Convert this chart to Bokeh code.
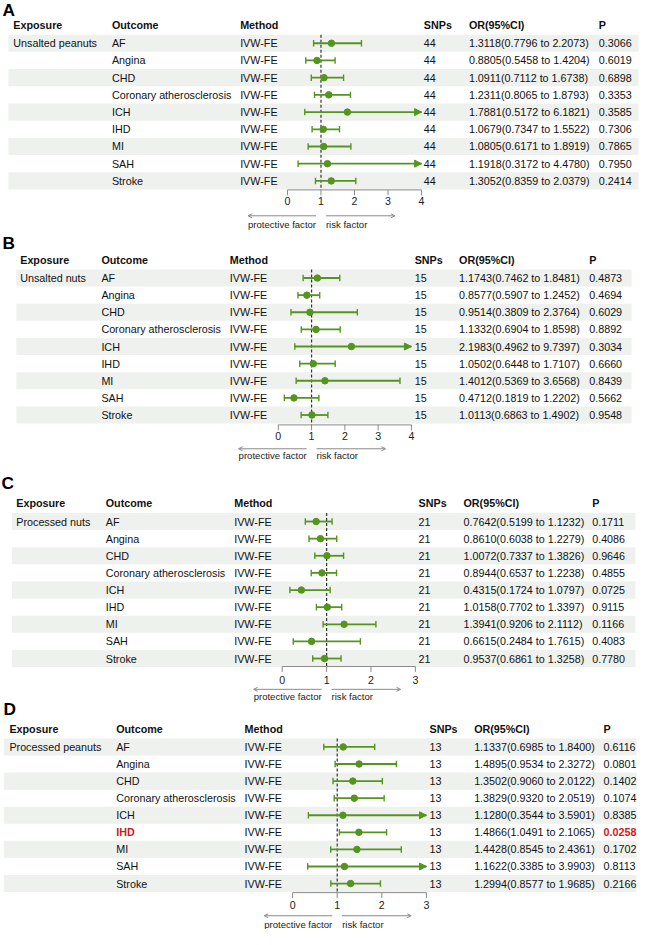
from bokeh.plotting import figure
from bokeh.models import Range1d, ColumnDataSource, Arrow, NormalHead, OpenHead
from bokeh.core.properties import value
from bokeh.embed import file_html
from bokeh.resources import INLINE

# ---------------- data ----------------
outcomes = ["AF", "Angina", "CHD", "Coronary atherosclerosis", "ICH",
            "IHD", "MI", "SAH", "Stroke"]
method_name = "IVW-FE"
headers = ["Exposure", "Outcome", "Method", "SNPs", "OR(95%CI)", "P"]
panel_letters = ["A", "B", "C", "D"]
exposures = ["Unsalted peanuts", "Unsalted nuts", "Processed nuts", "Processed peanuts"]
snps = [44, 15, 21, 13]

or_A = [1.3118, 0.8805, 1.0911, 1.2311, 1.7881, 1.0679, 1.0805, 1.1918, 1.3052]
lo_A = [0.7796, 0.5458, 0.7112, 0.8065, 0.5172, 0.7347, 0.6171, 0.3172, 0.8359]
hi_A = [2.2073, 1.4204, 1.6738, 1.8793, 6.1821, 1.5522, 1.8919, 4.4780, 2.0379]
p_A = [0.3066, 0.6019, 0.6898, 0.3353, 0.3585, 0.7306, 0.7865, 0.7950, 0.2414]

or_B = [1.1743, 0.8577, 0.9514, 1.1332, 2.1983, 1.0502, 1.4012, 0.4712, 1.0113]
lo_B = [0.7462, 0.5907, 0.3809, 0.6904, 0.4962, 0.6448, 0.5369, 0.1819, 0.6863]
hi_B = [1.8481, 1.2452, 2.3764, 1.8598, 9.7397, 1.7107, 3.6568, 1.2202, 1.4902]
p_B = [0.4873, 0.4694, 0.6029, 0.8892, 0.3034, 0.6660, 0.8439, 0.5662, 0.9548]

or_C = [0.7642, 0.8610, 1.0072, 0.8944, 0.4315, 1.0158, 1.3941, 0.6615, 0.9537]
lo_C = [0.5199, 0.6038, 0.7337, 0.6537, 0.1724, 0.7702, 0.9206, 0.2484, 0.6861]
hi_C = [1.1232, 1.2279, 1.3826, 1.2238, 1.0797, 1.3397, 2.1112, 1.7615, 1.3258]
p_C = [0.1711, 0.4086, 0.9646, 0.4855, 0.0725, 0.9115, 0.1166, 0.4083, 0.7780]

or_D = [1.1337, 1.4895, 1.3502, 1.3829, 1.1280, 1.4866, 1.4428, 1.1622, 1.2994]
lo_D = [0.6985, 0.9534, 0.9060, 0.9320, 0.3544, 1.0491, 0.8545, 0.3385, 0.8577]
hi_D = [1.8400, 2.3272, 2.0122, 2.0519, 3.5901, 2.1065, 2.4361, 3.9903, 1.9685]
p_D = [0.6116, 0.0801, 0.1402, 0.1074, 0.8385, 0.0258, 0.1702, 0.8113, 0.2166]

ticks_A = [0, 1, 2, 3, 4]
ticks_B = [0, 1, 2, 3, 4]
ticks_C = [0, 1, 2, 3]
ticks_D = [0, 1, 2, 3]

panels_data = [
    (or_A, lo_A, hi_A, p_A, ticks_A),
    (or_B, lo_B, hi_B, p_B, ticks_B),
    (or_C, lo_C, hi_C, p_C, ticks_C),
    (or_D, lo_D, hi_D, p_D, ticks_D),
]

# ---------------- layout (reference pixel units) ----------------
W, H = 639, 929
REF_W, REF_H = 648, 945
SX = W / REF_W
FONT = "Liberation Sans"
GREEN = "#55951f"
BAND = "#eef1ee"
TXT = "#111111"
RED = "#d01818"
GRAY = "#8a8a8a"

layouts = [
    dict(label=(2, 9.5), header_y=25.0, row0=43.5, dy=17.5, band=(8, 647),
         cols=(13, 113, 243, 429.3, 475, 606.7), zero=291.0, unit=34.0,
         axis_y=192.7, tick_y=204.0, arrow_y=219.0, alabel_y=227.5),
    dict(label=(2, 246.7), header_y=264.0, row0=282.3, dy=17.42, band=(16, 640),
         cols=(20, 102.3, 232.5, 420, 465, 597), zero=281.7, unit=33.75,
         axis_y=431.7, tick_y=443.0, arrow_y=456.0, alabel_y=463.0),
    dict(label=(1, 490.5), header_y=511.3, row0=530.0, dy=17.42, band=(11.7, 644),
         cols=(16, 106.7, 237, 424, 469.5, 600), zero=285.7, unit=45.0,
         axis_y=677.5, tick_y=691.5, arrow_y=700.7, alabel_y=708.0),
    dict(label=(3, 721.0), header_y=740.7, row0=759.3, dy=17.37, band=(3.3, 645),
         cols=(9, 117.3, 247.5, 435, 480.3, 611.5), zero=296.2, unit=45.25,
         axis_y=907.5, tick_y=920.0, arrow_y=931.0, alabel_y=939.5),
]

p = figure(width=W, height=H, x_range=Range1d(0, REF_W), y_range=Range1d(REF_H, 0),
           output_backend="svg", toolbar_location=None, min_border=0,
           x_axis_type=None, y_axis_type=None, background_fill_color="white")
p.grid.visible = False
p.outline_line_color = None

fs_body = value(f"{10.9 * SX:.2f}px")
fs_small = value(f"{9.7 * SX:.2f}px")
fs_tick = value(f"{10.8 * SX:.2f}px")
fs_letter = value(f"{17.5 * SX:.2f}px")

extra = {}
for i, lay in enumerate(layouts):
    start = (0 - lay["zero"]) / lay["unit"]
    end = (REF_W - lay["zero"]) / lay["unit"]
    extra[f"f{i}"] = Range1d(start, end)
p.extra_x_ranges = extra

for i, (lay, (ors, los, his, ps, ticks)) in enumerate(zip(layouts, panels_data)):
    rname = f"f{i}"
    n = len(outcomes)
    ys = [lay["row0"] + k * lay["dy"] for k in range(n)]
    dy = lay["dy"]
    c_exp, c_out, c_meth, c_snp, c_or, c_p = lay["cols"]
    xmax = max(ticks)

    # zebra bands
    band_rows = [ys[k] for k in range(0, n, 2)]
    p.rect(x=(lay["band"][0] + lay["band"][1]) / 2, y=band_rows,
           width=lay["band"][1] - lay["band"][0], height=dy,
           fill_color=BAND, line_color=None)

    # panel letter
    p.text(x=[lay["label"][0]], y=[lay["label"][1]], text=[panel_letters[i]],
           text_font=value(FONT), text_font_size=fs_letter, text_font_style="bold",
           text_baseline="middle", text_color="black")

    # headers
    p.text(x=list(lay["cols"]), y=[lay["header_y"]] * 6, text=headers,
           text_font=value(FONT), text_font_size=fs_body, text_font_style="bold",
           text_baseline="middle", text_color=TXT)

    sig = [pv < 0.05 for pv in ps]
    or_txt = [f"{o:.4f}({l:.4f} to {h:.4f})" for o, l, h in zip(ors, los, his)]
    p_txt = [f"{pv:.4f}" for pv in ps]

    xs_n, ys_n, t_n = [c_exp], [ys[0]], [exposures[i]]
    xs_b, ys_b, t_b = [], [], []
    for k in range(n):
        for col_x, txt in ((c_meth, method_name), (c_snp, str(snps[i])), (c_or, or_txt[k])):
            xs_n.append(col_x); ys_n.append(ys[k]); t_n.append(txt)
        if sig[k]:
            xs_b += [c_out, c_p]; ys_b += [ys[k], ys[k]]; t_b += [outcomes[k], p_txt[k]]
        else:
            xs_n += [c_out, c_p]; ys_n += [ys[k], ys[k]]; t_n += [outcomes[k], p_txt[k]]
    p.text(x=xs_n, y=ys_n, text=t_n, text_font=value(FONT), text_font_size=fs_body,
           text_baseline="middle", text_color=TXT)
    if t_b:
        p.text(x=xs_b, y=ys_b, text=t_b, text_font=value(FONT), text_font_size=fs_body,
               text_font_style="bold", text_baseline="middle", text_color=RED)

    # reference dashed line at OR = 1
    p.segment(x0=[1], x1=[1], y0=[ys[0] - dy / 2], y1=[lay["axis_y"]],
              x_range_name=rname, line_color="#333333", line_width=1.2, line_dash="3 2")

    # CI lines
    hi_clip = [min(h, xmax) for h in his]
    p.segment(x0=los, x1=hi_clip, y0=ys, y1=ys, x_range_name=rname,
              line_color=GREEN, line_width=1.8)
    cap = 3.3
    cap_x = list(los) + [h for h in his if h <= xmax]
    cap_y = list(ys) + [y for h, y in zip(his, ys) if h <= xmax]
    p.segment(x0=cap_x, x1=cap_x, y0=[y - cap for y in cap_y], y1=[y + cap for y in cap_y],
              x_range_name=rname, line_color=GREEN, line_width=1.4)
    clip_rows = [k for k in range(n) if his[k] > xmax]
    if clip_rows:
        src = ColumnDataSource(dict(x0=[xmax - 0.2 for _ in clip_rows],
                                    x1=[xmax for _ in clip_rows],
                                    y=[ys[k] for k in clip_rows]))
        p.add_layout(Arrow(end=NormalHead(size=7, fill_color=GREEN, line_color=GREEN, line_width=1),
                           x_start="x0", x_end="x1", y_start="y", y_end="y", source=src,
                           line_alpha=0, x_range_name=rname))
    p.scatter(x=ors, y=ys, x_range_name=rname, size=6.5, marker="circle",
              fill_color=GREEN, line_color=GREEN)

    # axis
    p.segment(x0=[min(ticks)], x1=[xmax], y0=[lay["axis_y"]], y1=[lay["axis_y"]],
              x_range_name=rname, line_color=GRAY, line_width=1)
    p.segment(x0=ticks, x1=ticks, y0=[lay["axis_y"]] * len(ticks),
              y1=[lay["axis_y"] + 5.5] * len(ticks), x_range_name=rname,
              line_color=GRAY, line_width=1)
    p.text(x=ticks, y=[lay["tick_y"]] * len(ticks), text=[str(t) for t in ticks],
           x_range_name=rname, text_font=value(FONT), text_font_size=fs_tick,
           text_align="center", text_baseline="middle", text_color="#222222")

    # direction arrows and labels
    one_px = lay["zero"] + lay["unit"]
    l_start, l_end = one_px - 5, one_px - 5 - 69
    r_start, r_end = one_px + 5, one_px + 5 + 70
    for xs0, xs1 in ((l_start, l_end), (r_start, r_end)):
        p.add_layout(Arrow(end=OpenHead(size=4, line_color=GRAY, line_width=1),
                           x_start=xs0, x_end=xs1, y_start=lay["arrow_y"], y_end=lay["arrow_y"],
                           line_color=GRAY, line_width=1))
    p.text(x=[l_start], y=[lay["alabel_y"]], text=["protective factor"],
           text_font=value(FONT), text_font_size=fs_small, text_align="right",
           text_baseline="middle", text_color="#222222")
    p.text(x=[r_start], y=[lay["alabel_y"]], text=["risk factor"],
           text_font=value(FONT), text_font_size=fs_small, text_align="left",
           text_baseline="middle", text_color="#222222")

open("out.html", "w").write(file_html(p, INLINE))
